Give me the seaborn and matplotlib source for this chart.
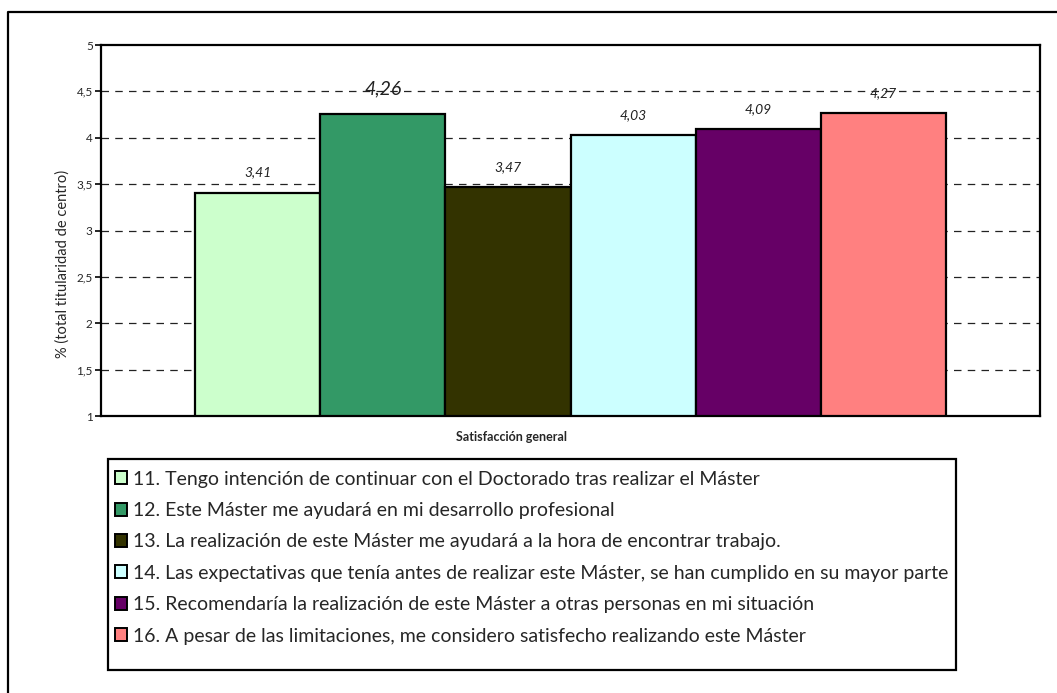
#!/usr/bin/env python3

import numpy as np
import matplotlib
import matplotlib.pyplot as plt
import pandas as pd
import seaborn as sns
from matplotlib.lines import Line2D
from matplotlib.patches import Rectangle

sns.set_style("white")
plt.rcParams['font.family'] = ['Lato', 'DejaVu Sans']

# values
items = ['11. Tengo intención de continuar con el Doctorado tras realizar el Máster',
         '12. Este Máster me ayudará en mi desarrollo profesional',
         '13. La realización de este Máster me ayudará a la hora de encontrar trabajo.',
         '14. Las expectativas que tenía antes de realizar este Máster, se han cumplido en su mayor parte',
         '15. Recomendaría la realización de este Máster a otras personas en mi situación',
         '16. A pesar de las limitaciones, me considero satisfecho realizando este Máster']
scores = [3.41, 4.26, 3.47, 4.03, 4.09, 4.27]
colors = ['#CCFFCC', '#339966', '#333300', '#CCFFFF', '#660066', '#FF8080']
group = 'Satisfacción general'
y_ticks = [1, 1.5, 2, 2.5, 3, 3.5, 4, 4.5, 5]


def main():
    data = pd.DataFrame({'grupo': [group] * len(items), 'item': items, 'valor': scores})

    fig = plt.figure(figsize=(10.57, 6.93), dpi=100)
    ax = fig.add_axes([0.0956, 0.3997, 0.8884, 0.5353])

    sns.barplot(data=data, x='grupo', y='valor', hue='item', hue_order=items,
                palette=colors, edgecolor='black', linewidth=1.6, saturation=1,
                width=0.8, ax=ax)

    ax.set_ylim(1, 5)
    ax.set_xlim(-0.5, 0.5)
    ax.set_yticks(y_ticks)
    ax.set_yticklabels([('%g' % t).replace('.', ',') for t in y_ticks], fontsize=8.5)
    ax.set_xticks([])
    ax.tick_params(axis='y', direction='out', length=4, width=1.2, color='black',
                   left=True, pad=2)
    for t in y_ticks[1:-1]:
        ax.axhline(t, color='#222222', linewidth=0.9, dashes=(6, 5), zorder=0)
    for s in ax.spines.values():
        s.set_color('black')
        s.set_linewidth(1.6)

    # value labels
    for i, cont in enumerate(ax.containers):
        big = scores[i] == 4.26
        lab = [('%.2f' % scores[i]).replace('.', ',')]
        ax.bar_label(cont, labels=lab, padding=12 if big else 10,
                     fontsize=14 if big else 10, style='italic', color='#222222')

    ax.set_xlabel('')
    ax.set_ylabel('')
    fig.text(0.4835, 0.369, group, fontsize=9, fontweight='bold', ha='center', va='center')
    fig.text(0.0596, 0.619, '% (total titularidad de centro)', fontsize=10.5,
             rotation=90, ha='center', va='center')

    handles, labels = ax.get_legend_handles_labels()
    if ax.get_legend() is not None:
        ax.get_legend().remove()
    leg = fig.legend(handles, labels, loc='upper left', bbox_to_anchor=(0.102, 0.3308),
                     frameon=False, fontsize=14, handlelength=0.65,
                     handleheight=0.65, handletextpad=0.3, labelspacing=0.74,
                     borderpad=0.35, borderaxespad=0)
    for h in leg.legend_handles:
        h.set_edgecolor('black')
        h.set_linewidth(1.4)
    # legend box, taller at the bottom like the original
    fig.add_artist(Rectangle((108 / 1057, 1 - 670 / 693), 848 / 1057, 211 / 693,
                             transform=fig.transFigure, fill=False,
                             edgecolor='black', linewidth=1.6))

    # outer chart border (left and top visible)
    fig.add_artist(Line2D([8 / 1057, 8 / 1057, 1.0], [0.0, 1 - 12 / 693, 1 - 12 / 693],
                          transform=fig.transFigure, color='black', linewidth=1.6))

    fig.savefig('out.png', dpi=100)


if __name__ == "__main__":
    main()
